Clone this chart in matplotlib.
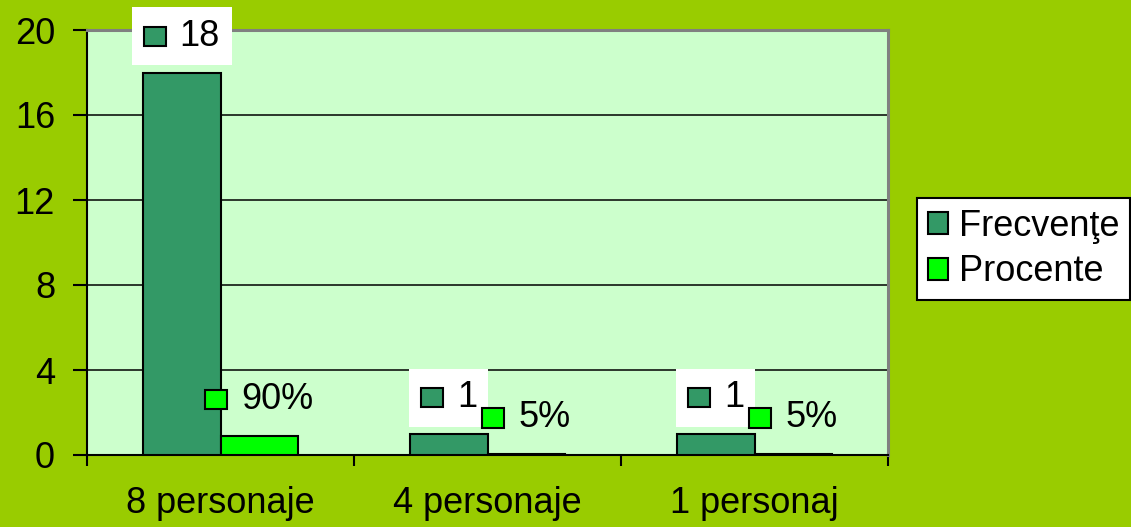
import numpy as np
import matplotlib
matplotlib.use("Agg")
import matplotlib.pyplot as plt
from matplotlib.patches import Rectangle, Patch
from matplotlib.offsetbox import AnnotationBbox, HPacker, DrawingArea, TextArea

plt.rcParams['font.family'] = ['Liberation Sans', 'DejaVu Sans']

categories = ["8 personaje", "4 personaje", "1 personaj"]
frecvente = [18, 1, 1]
procente = [0.90, 0.05, 0.05]
procente_labels = ["90%", "5%", "5%"]
series_names = ["Frecvenţe", "Procente"]

dark = "#339966"
bright = "#00FF00"
fs = 26

fig = plt.figure(figsize=(11.31, 5.27), dpi=100, facecolor="#99CC00")
ax = fig.add_axes([87 / 1131, 1 - 455 / 527, (888 - 87) / 1131, (455 - 30) / 527])
ax.set_facecolor("#CCFFCC")

x = np.arange(len(categories))
w = 0.29
ax.bar(x - w / 2, frecvente, w, color=dark, edgecolor="black", linewidth=1.5, zorder=3)
ax.bar(x + w / 2, procente, w, color=bright, edgecolor="black", linewidth=1.5, zorder=3)

ax.set_xlim(-0.5, 2.5)
ax.set_ylim(0, 20)
ax.set_yticks(range(0, 21, 4))
ax.yaxis.grid(True, color="black", linewidth=1.1, zorder=1)
ax.set_axisbelow(True)

ax.set_xticks(x)
ax.set_xticklabels(categories, fontsize=fs)
ax.set_xticks([-0.5, 0.5, 1.5, 2.5], minor=True)
ax.tick_params(axis="x", which="major", length=0, pad=22)
ax.tick_params(axis="x", which="minor", length=8, width=1.5, direction="out")
ax.tick_params(axis="y", length=10, width=1.5, direction="out", pad=13, labelsize=fs)

for s in ["left", "bottom"]:
    ax.spines[s].set_color("black")
    ax.spines[s].set_linewidth(1.5)
for s in ["top", "right"]:
    ax.spines[s].set_color("#808080")
    ax.spines[s].set_linewidth(2.2)


def value_label(xv, yv, text, color, framed, z):
    da = DrawingArea(16, 14, 0, 0)
    da.add_artist(Rectangle((0, 0), 16, 14, facecolor=color, edgecolor="black", linewidth=1.5))
    ta = TextArea(text, textprops=dict(fontsize=fs))
    box = HPacker(children=[da, ta], align="center", pad=0, sep=10)
    ab = AnnotationBbox(box, (xv, yv), xybox=(0, 26), boxcoords="offset points",
                        frameon=framed, pad=0.32, fontsize=fs,
                        bboxprops=dict(facecolor="white", edgecolor="none"),
                        annotation_clip=False, zorder=z)
    ax.add_artist(ab)


for i in range(len(categories)):
    value_label(x[i] - w / 2, frecvente[i], str(frecvente[i]), dark, True, 5)
    value_label(x[i] + w / 2, procente[i], procente_labels[i], bright, False, 6)

handles = [Patch(facecolor=dark, edgecolor="black", linewidth=1.5),
           Patch(facecolor=bright, edgecolor="black", linewidth=1.5)]
leg = fig.legend(handles, series_names, loc="center left",
                 bbox_to_anchor=(0.811, 0.5275), fontsize=fs,
                 frameon=True, fancybox=False, edgecolor="black",
                 facecolor="white", framealpha=1,
                 handlelength=0.55, handleheight=0.55, handletextpad=0.3,
                 labelspacing=0.3, borderpad=0.3, borderaxespad=0)
leg.get_frame().set_linewidth(1.5)

fig.savefig("out.png", dpi=100, facecolor=fig.get_facecolor())
